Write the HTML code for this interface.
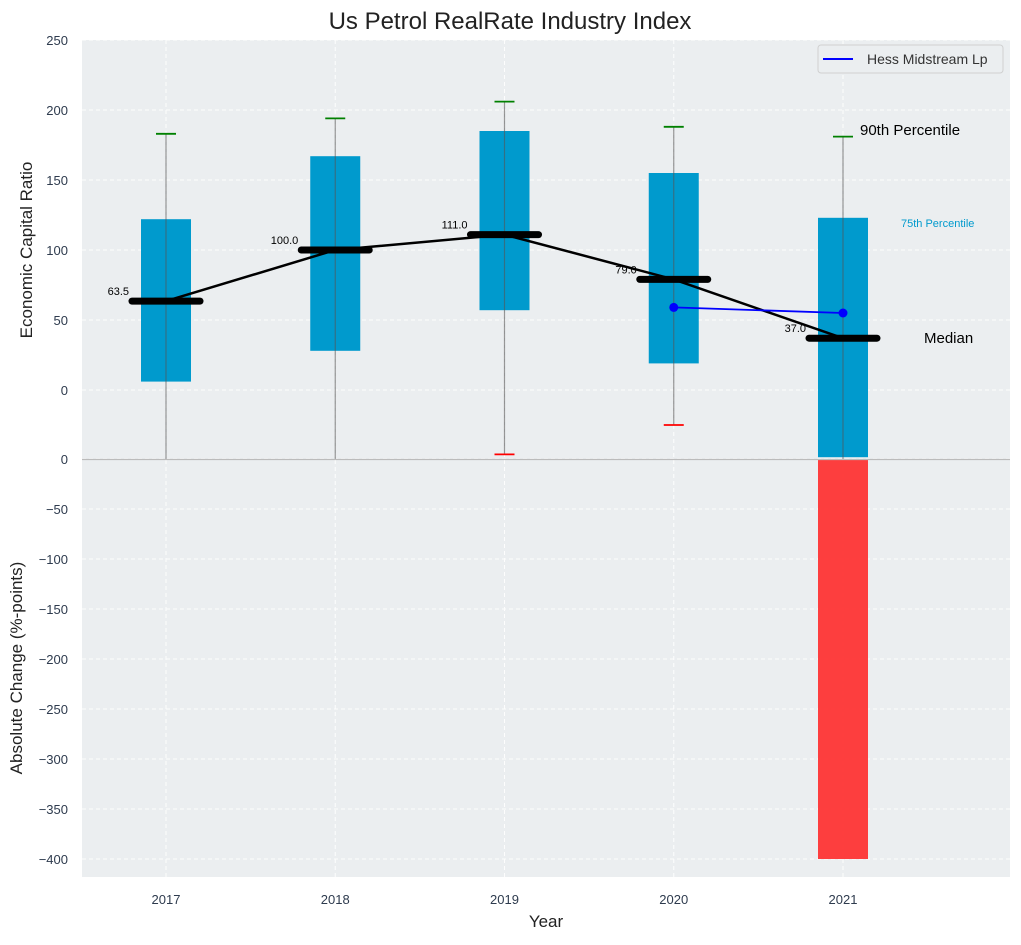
<!DOCTYPE html>
<html><head><meta charset="utf-8"><style>
body{margin:0;background:#fff;font-family:"Liberation Sans",sans-serif}
svg text{font-family:"Liberation Sans",sans-serif}
</style></head><body>
<svg id="c" width="1021" height="940"></svg>
<script>
const years=[2017,2018,2019,2020,2021];
const q1=[6,28,57,19,-48];
const q3=[122,167,185,155,123];
const medians=[63.5,100,111,79,37];
const p90=[183,194,206,188,181];
const p10=[-50,-50,-46,-25,-50];
const hessYears=[2020,2021];
const hessVals=[59,55];
const changeYears=[2021];
const changeVals=[-400];
const topTicks=[250,200,150,100,50,0];
const botTicks=[0,-50,-100,-150,-200,-250,-300,-350,-400];

const L=82,R=1010;
const X=v=>166+(v-2017)*169.25;
const YT=v=>390-v*1.4;
const YB=v=>459-v;
const svg=document.getElementById('c');
const NS='http://www.w3.org/2000/svg';
function el(t,a,p){const e=document.createElementNS(NS,t);for(const k in a)e.setAttribute(k,a[k]);(p||svg).appendChild(e);return e;}

let e;
e=el('rect',{x:L,y:40,width:R-L,height:420,fill:'#ebeef0'});


e=el('rect',{x:L,y:460,width:R-L,height:417,fill:'#ebeef0'});


const defs=el('defs',{});
const cp=el('clipPath',{id:'tc'},defs);el('rect',{x:L,y:40,width:R-L,height:419},cp);

const g=el('g',{stroke:'#fff','stroke-dasharray':'4,3','stroke-width':1,opacity:0.9});


topTicks.forEach(t=>el('line',{x1:L,x2:R,y1:YT(t),y2:YT(t)},g));
botTicks.forEach(t=>el('line',{x1:L,x2:R,y1:YB(t),y2:YB(t)},g));
years.forEach(y=>{el('line',{x1:X(y),x2:X(y),y1:40,y2:877},g);});

topTicks.forEach(t=>{e=el('text',{x:68,y:YT(t)+5,'text-anchor':'end','font-size':13,fill:'#2e3b4e'});e.textContent=t;

});
botTicks.forEach(t=>{e=el('text',{x:68,y:YB(t)+5,'text-anchor':'end','font-size':13,fill:'#2e3b4e'});e.textContent=t<0?'\u2212'+(-t):t;

});
years.forEach(y=>{e=el('text',{x:X(y),y:904,'text-anchor':'middle','font-size':13,fill:'#2e3b4e'});e.textContent=y;

});

const tg=el('g',{'clip-path':'url(#tc)'});
years.forEach((y,i)=>{
  e=el('rect',{x:X(y)-25,y:YT(q3[i]),width:50,height:YT(q1[i])-YT(q3[i]),fill:'#009acd'},tg);
  
  
  e=el('line',{x1:X(y),x2:X(y),y1:YT(p90[i]),y2:YT(p10[i]),stroke:'#555',opacity:0.6,'stroke-width':1.2},tg);
  
  
  e=el('line',{x1:X(y)-10,x2:X(y)+10,y1:YT(p90[i]),y2:YT(p90[i]),stroke:'green','stroke-width':1.8},tg);
  
  
  if(p10[i]>-48){e=el('line',{x1:X(y)-10,x2:X(y)+10,y1:YT(p10[i]),y2:YT(p10[i]),stroke:'red','stroke-width':1.8},tg);
  
  }
});
e=el('polyline',{points:years.map((y,i)=>X(y)+','+YT(medians[i])).join(' '),fill:'none',stroke:'#000','stroke-width':2.5},tg);


years.forEach((y,i)=>{
  e=el('line',{x1:X(y)-34,x2:X(y)+34,y1:YT(medians[i]),y2:YT(medians[i]),stroke:'#000','stroke-width':7,'stroke-linecap':'round'},tg);
  
  
  e=el('text',{x:X(y)-37,y:YT(medians[i])-6,'text-anchor':'end','font-size':11,fill:'#000'});e.textContent=medians[i].toFixed(1);
  
  
});
e=el('polyline',{points:hessYears.map((y,i)=>X(y)+','+YT(hessVals[i])).join(' '),fill:'none',stroke:'blue','stroke-width':1.8},tg);


hessYears.forEach((y,i)=>{e=el('circle',{cx:X(y),cy:YT(hessVals[i]),r:4.5,fill:'blue'},tg);

});
changeYears.forEach((y,i)=>{e=el('rect',{x:X(y)-25,y:YB(0),width:50,height:YB(changeVals[i])-YB(0),fill:'#ff2a2a',opacity:0.9});

});
e=el('line',{x1:L,x2:R,y1:459.5,y2:459.5,stroke:'#bbb','stroke-width':1.2});



function txt(x,y,s,fs,fill,name,anchor){const t=el('text',{x:x,y:y,'font-size':fs,fill:fill,'text-anchor':anchor||'start'});t.textContent=s;

return t;}
txt(860,135,'90th Percentile',15,'#000','p90-annotation');
txt(901,227,'75th Percentile',11,'#009acd','p75-annotation');
txt(924,343,'Median',15,'#000','median-annotation');
txt(510,29,'Us Petrol RealRate Industry Index',24,'#222','chart-title','middle');
txt(546,927,'Year',17,'#222','x-axis-title','middle');
e=txt(0,0,'Economic Capital Ratio',17,'#222','y-axis-title-top','middle');e.setAttribute('transform','translate(32,250) rotate(-90)');
e=txt(0,0,'Absolute Change (%-points)',17,'#222','y-axis-title-bottom','middle');e.setAttribute('transform','translate(22,668) rotate(-90)');

const lg=el('g',{});


el('rect',{x:818,y:45,width:185,height:28,rx:3,fill:'#ebeef0',stroke:'#d0d0d0'},lg);
el('line',{x1:823,x2:853,y1:59,y2:59,stroke:'blue','stroke-width':2},lg);
e=el('text',{x:867,y:64,'font-size':14,fill:'#333'},lg);e.textContent='Hess Midstream Lp';


</script>
</body></html>
